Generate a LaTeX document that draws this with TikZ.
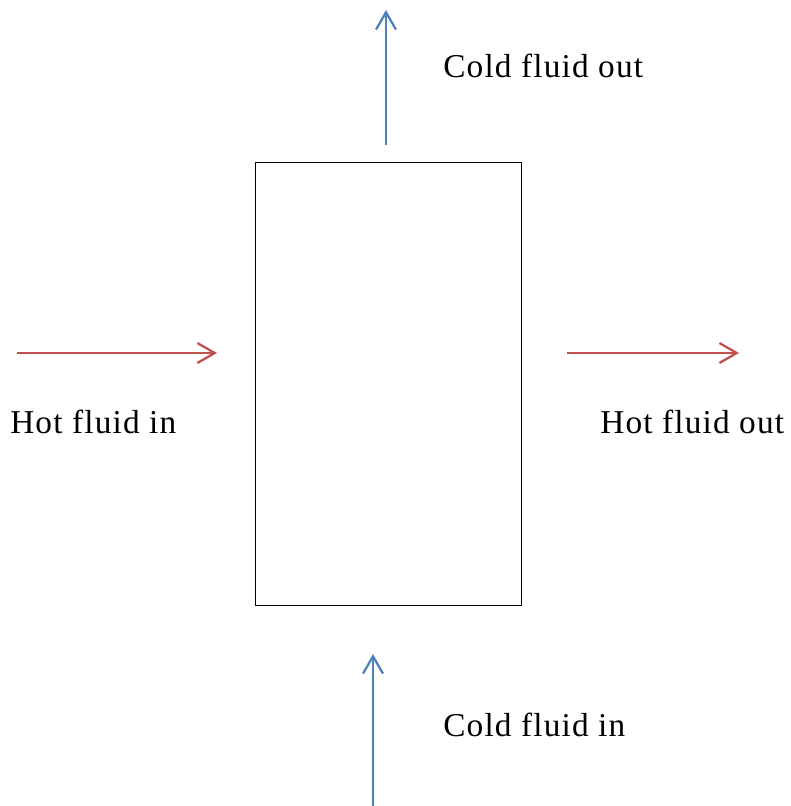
\documentclass[tikz,border=0pt]{standalone}
\usepackage{fontspec}
\setmainfont{Liberation Serif}[LetterSpace=3.5]
\usetikzlibrary{arrows.meta}
\definecolor{hotred}{RGB}{192,80,77}
\definecolor{coldblue}{RGB}{79,129,189}
\begin{document}
\begin{tikzpicture}[x=0.75pt,y=-0.75pt,
  flow/.style={line width=1.7pt,-{Straight Barb[length=13pt,width=15pt,line width=1.7pt]}},
  hotflow/.style={flow,draw=hotred},
  coldflow/.style={flow,draw=coldblue},
  lbl/.style={inner sep=0pt,anchor=base west,font=\fontsize{25}{29}\selectfont}]
\useasboundingbox (0,0) rectangle (791,806);
% exchanger body
\node[draw,line width=0.75pt,minimum width=199.5pt,minimum height=331.5pt,inner sep=0pt] (hx) at (388,384) {};
% stream ends
\coordinate (hin0) at (17,353);
\coordinate (hin1) at (217,353);
\coordinate (hout0) at (567,353);
\coordinate (hout1) at (739,353);
\coordinate (cin0) at (373,806);
\coordinate (cin1) at (373,654);
\coordinate (cout0) at (386,145);
\coordinate (cout1) at (386,10);
\draw[hotflow] (hin0) -- (hin1);
\draw[hotflow] (hout0) -- (hout1);
\draw[coldflow] (cin0) -- (cin1);
\draw[coldflow] (cout0) -- (cout1);
% labels
\node[lbl] (thin) at (10,433) {Hot fluid in};
\node[lbl] (thout) at (600,433) {Hot fluid out};
\node[lbl] (tcin) at (443,736) {Cold fluid in};
\node[lbl] (tcout) at (443,78) {Cold fluid out};
\end{tikzpicture}
\end{document}
